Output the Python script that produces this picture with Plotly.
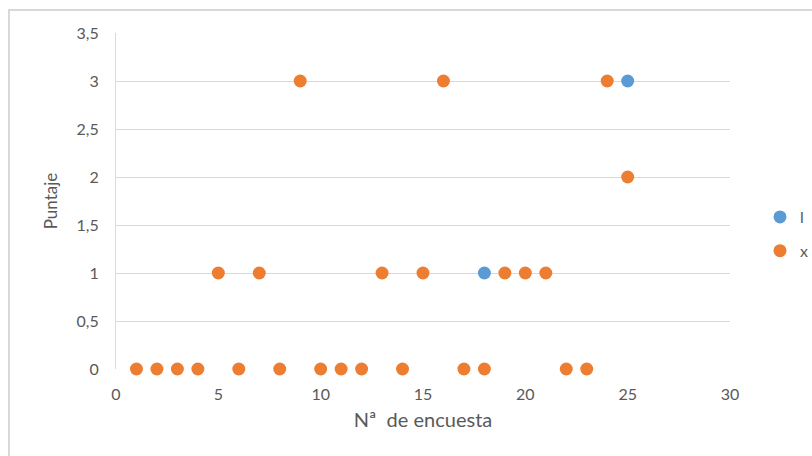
import plotly.graph_objects as go

# Survey number and score for each series
encuesta = list(range(1, 26))
puntaje_x = [0, 0, 0, 0, 1, 0, 1, 0, 3, 0, 0, 0, 1, 0, 1, 3, 0, 0, 1, 1, 1, 0, 0, 3, 2]
encuesta_l = [18, 25]
puntaje_l = [1, 3]

x_ticks = [0, 5, 10, 15, 20, 25, 30]
y_ticks = [0, 0.5, 1, 1.5, 2, 2.5, 3, 3.5]
y_labels = ["0", "0,5", "1", "1,5", "2", "2,5", "3", "3,5"]

W, H = 812, 456
L, R, T, B = 116, 82, 33, 87
pw, ph = W - L - R, H - T - B

def px(xp):
    return (xp - L) / pw

def py(yp):
    return (H - B - yp) / ph

font_family = "Lato, 'Open Sans', sans-serif"
text_col = "#595959"

fig = go.Figure()
fig.add_trace(go.Scatter(
    x=encuesta_l, y=puntaje_l, mode="markers", name="l",
    legendgroup="a",
    marker=dict(color="#5B9BD5", size=13, line=dict(width=0)),
    cliponaxis=False,
))
fig.add_trace(go.Scatter(
    x=encuesta, y=puntaje_x, mode="markers", name="x",
    legendgroup="b",
    marker=dict(color="#ED7D31", size=13, line=dict(width=0)),
    cliponaxis=False,
))

# outer chart frame
fig.add_shape(type="rect", xref="paper", yref="paper",
              x0=px(9), x1=px(830), y0=py(10), y1=py(470),
              line=dict(color="#d9d9d9", width=2), fillcolor="rgba(0,0,0,0)",
              layer="below")

fig.update_layout(
    width=W, height=H,
    margin=dict(l=L, r=R, t=T, b=B, autoexpand=False),
    paper_bgcolor="white", plot_bgcolor="white",
    font=dict(family=font_family, size=16, color=text_col),
    showlegend=True,
    legend=dict(xref="container", yref="container",
                x=760 / W, y=1 - 200 / H, xanchor="left", yanchor="top",
                tracegroupgap=10, font=dict(size=16, color=text_col),
                itemwidth=30, bgcolor="rgba(0,0,0,0)"),
    xaxis=dict(range=[0, 30], tickvals=x_ticks, ticktext=[str(v) for v in x_ticks],
               showgrid=False, zeroline=False, showline=False,
               ticks="", tickfont=dict(size=16, color=text_col), ticklabelstandoff=14,
               automargin=False,
               title=dict(text="Nª  de encuesta", font=dict(size=20, color=text_col), standoff=10)),
    yaxis=dict(range=[0, 3.5], tickvals=y_ticks, ticktext=y_labels,
               showgrid=True, gridcolor="#d9d9d9", gridwidth=1,
               zeroline=False, showline=True, linecolor="#d9d9d9", linewidth=1,
               ticks="", tickfont=dict(size=16, color=text_col), ticklabelstandoff=13,
               automargin=False,
               title=dict(text="Puntaje", font=dict(size=17, color=text_col), standoff=14)),
)

fig.write_html("out.html")
